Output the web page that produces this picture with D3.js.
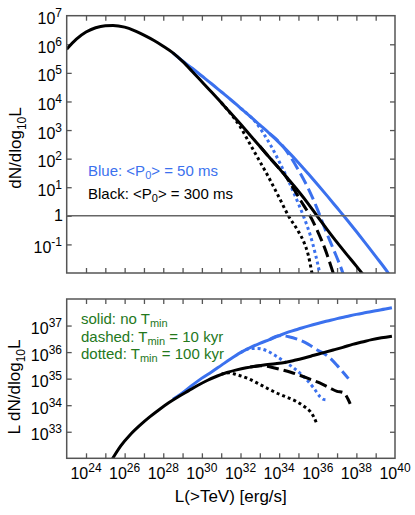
<!DOCTYPE html>
<html>
<head>
<meta charset="utf-8">
<script src="https://cdn.jsdelivr.net/npm/d3@7/dist/d3.min.js"></script>
<style>
  body { margin: 0; background: #fff; }
  text { font-family: Arial, "Liberation Sans", sans-serif; }
</style>
</head>
<body>
<svg id="chart" width="415" height="515"></svg>
<script>
// all values are [log10 L, log10 y]

// top panel: dN/dlog10L
var blackSolidTop = [[23.0,5.83],[23.5,6.18],[24.0,6.43],[24.5,6.58],[25.0,6.65],[25.4,6.66],[26.0,6.60],[26.5,6.48],[27.0,6.32],[27.5,6.14],[28.0,5.93],[28.5,5.70],[29.0,5.40],[29.5,5.05],[30.0,4.69],[30.5,4.33],[31.0,3.96],[31.5,3.59],[32.0,3.21],[32.5,2.82],[33.0,2.43],[33.5,2.04],[34.0,1.66],[34.5,1.26],[35.0,0.86],[35.5,0.43],[36.0,-0.04],[36.5,-0.49],[37.0,-0.93],[37.5,-1.35],[38.0,-1.76],[38.4,-2.1]];
var blackDashedTop = [[33.0,2.43],[33.5,2.04],[34.0,1.66],[34.3,1.42],[34.7,1.0],[35.1,0.55],[35.6,0.0],[36.0,-0.55],[36.4,-1.2],[36.8,-2.0],[36.85,-2.1]];
var blackDottedTop = [[31.0,3.96],[31.2,3.81],[31.6,3.48],[32.0,3.1],[32.4,2.62],[32.9,2.02],[33.4,1.42],[34.0,0.64],[34.5,-0.02],[35.0,-0.55],[35.3,-0.95],[35.5,-1.35],[35.7,-2.0],[35.73,-2.1]];
var blueSolidTop = [[28.5,5.70],[28.9,5.47],[29.5,5.16],[30.0,4.89],[30.5,4.62],[31.0,4.34],[31.5,4.06],[32.0,3.77],[32.5,3.48],[33.0,3.18],[33.5,2.88],[34.0,2.56],[34.5,2.22],[35.0,1.86],[35.5,1.48],[36.0,1.09],[36.5,0.69],[37.0,0.28],[37.5,-0.13],[38.0,-0.55],[38.5,-0.98],[39.0,-1.42],[39.5,-1.86],[39.7,-2.05]];
var blueDashedTop = [[33.5,2.88],[34.2,2.43],[34.6,2.05],[35.0,1.6],[35.5,0.97],[36.0,0.2],[36.4,-0.5],[36.8,-1.15],[37.3,-2.0],[37.35,-2.1]];
var blueDottedTop = [[32.0,3.77],[32.4,3.54],[32.8,3.26],[33.2,2.87],[33.6,2.42],[34.0,1.9],[34.5,1.2],[35.0,0.42],[35.3,-0.08],[35.6,-0.65],[35.9,-1.4],[36.1,-2.0],[36.13,-2.1]];

// bottom panel: L dN/dlog10L
var blackSolidBot = [[25.3,31.9],[25.8,32.47],[26.3,32.9],[26.8,33.25],[27.3,33.56],[27.8,33.84],[28.3,34.1],[28.8,34.33],[29.3,34.54],[29.8,34.75],[30.3,34.94],[30.8,35.1],[31.3,35.23],[31.8,35.33],[32.3,35.41],[32.8,35.47],[33.3,35.52],[33.8,35.56],[34.3,35.61],[34.8,35.69],[35.3,35.78],[35.8,35.88],[36.3,35.98],[36.8,36.08],[37.3,36.18],[37.8,36.29],[38.3,36.38],[38.8,36.47],[39.3,36.54],[39.84,36.6]];
var blackDashedBot = [[32.5,35.44],[33.0,35.49],[33.6,35.43],[34.1,35.34],[34.6,35.24],[35.1,35.12],[35.6,34.98],[36.1,34.84],[36.6,34.66],[37.0,34.52],[37.3,34.48],[37.45,34.38],[37.55,34.25],[37.68,34.05]];
var blackDottedBot = [[31.0,35.16],[31.4,35.22],[31.8,35.15],[32.4,35.0],[32.9,34.82],[33.4,34.63],[33.9,34.45],[34.4,34.3],[34.9,34.14],[35.3,33.95],[35.6,33.77],[35.8,33.55],[35.95,33.3]];
var blueSolidBot = [[28.5,34.22],[28.9,34.41],[29.5,34.75],[30.0,35.02],[30.5,35.25],[31.0,35.5],[31.5,35.75],[32.0,35.98],[32.5,36.17],[33.0,36.33],[33.5,36.47],[34.0,36.62],[34.5,36.76],[35.0,36.87],[35.5,36.98],[36.0,37.08],[36.5,37.17],[37.0,37.26],[37.5,37.34],[38.0,37.42],[38.5,37.49],[39.0,37.56],[39.5,37.62],[39.84,37.67]];
var blueDashedBot = [[33.5,36.47],[34.0,36.62],[34.5,36.58],[35.0,36.47],[35.5,36.3],[36.0,36.07],[36.5,35.86],[37.0,35.5],[37.3,35.25],[37.59,35.0]];
var blueDottedBot = [[32.0,35.98],[32.4,36.12],[32.9,36.14],[33.3,36.07],[33.8,35.87],[34.3,35.63],[34.8,35.38],[35.3,35.05],[35.8,34.64],[36.12,34.32],[36.3,34.22],[36.47,34.2]];

// tick exponents
var xTickExp = d3.range(24, 40);
var xLabelExp = [24, 26, 28, 30, 32, 34, 36, 38, 40];
var topTickExp = [-1, 0, 1, 2, 3, 4, 5, 6];
var topLabelExp = [7, 6, 5, 4, 3, 2, 1, 0, -1];
var botTickExp = [33, 34, 35, 36, 37];

var blue = "#3b71ee", green = "#24781c", frameCol = "#555";

var svg = d3.select("#chart");

var left = 66.7, right = 395;
var x = d3.scaleLog().domain([1e23, 1e40]).range([left, right]);
var yTop = d3.scaleLog().domain([1e-2, 1e7]).range([273, 15.7]);
var yBot = d3.scaleLog().domain([1e32, 1e38]).range([458.3, 299]);

function pts(a) {
  return a.map(function(d) { return [Math.pow(10, d[0]), Math.pow(10, d[1])]; });
}

function panel(id, y, series, tickExp) {
  var y0 = y.range()[0], y1 = y.range()[1];
  svg.append("clipPath").attr("id", id)
    .append("rect").attr("x", left).attr("y", y1)
    .attr("width", right - left).attr("height", y0 - y1);

  var g = svg.append("g");
  var ticks = xTickExp.map(function(e) { return Math.pow(10, e); });
  var yt = tickExp.map(function(e) { return Math.pow(10, e); });

  // inward ticks on all four sides
  g.append("g").attr("transform", "translate(0," + y0 + ")")
    .call(d3.axisBottom(x).tickValues(ticks).tickSize(-5).tickFormat(""));
  g.append("g").attr("transform", "translate(0," + y1 + ")")
    .call(d3.axisTop(x).tickValues(ticks).tickSize(-5).tickFormat(""));
  g.append("g").attr("transform", "translate(" + left + ",0)")
    .call(d3.axisLeft(y).tickValues(yt).tickSize(-5).tickFormat(""));
  g.append("g").attr("transform", "translate(" + right + ",0)")
    .call(d3.axisRight(y).tickValues(yt).tickSize(-5).tickFormat(""));
  g.selectAll(".domain").remove();
  g.selectAll(".tick line").attr("stroke", frameCol).attr("stroke-width", 1.3);

  var line = d3.line()
    .x(function(d) { return x(d[0]); })
    .y(function(d) { return y(d[1]); })
    .curve(d3.curveMonotoneX);

  var lg = svg.append("g").attr("clip-path", "url(#" + id + ")");
  series.forEach(function(s) {
    lg.append("path")
      .attr("d", line(pts(s.data)))
      .attr("fill", "none")
      .attr("stroke", s.color)
      .attr("stroke-width", 3)
      .attr("stroke-dasharray", s.dash || null);
  });

  svg.append("rect")
    .attr("x", left).attr("y", y1)
    .attr("width", right - left).attr("height", y0 - y1)
    .attr("fill", "none").attr("stroke", frameCol).attr("stroke-width", 1.5);
  return lg;
}

var dash = "12,5", dot = "3,3";

// top panel
panel("clipTop", yTop, [
  { data: blueSolidTop, color: blue },
  { data: blueDashedTop, color: blue, dash: dash },
  { data: blueDottedTop, color: blue, dash: dot },
  { data: blackSolidTop, color: "#000" },
  { data: blackDashedTop, color: "#000", dash: dash },
  { data: blackDottedTop, color: "#000", dash: dot }
], topTickExp);

// horizontal line at 1
svg.append("line")
  .attr("x1", left).attr("x2", right)
  .attr("y1", yTop(1)).attr("y2", yTop(1))
  .attr("stroke", "#666").attr("stroke-width", 1.5);

// bottom panel
panel("clipBot", yBot, [
  { data: blueSolidBot, color: blue },
  { data: blueDashedBot, color: blue, dash: dash },
  { data: blueDottedBot, color: blue, dash: dot },
  { data: blackSolidBot, color: "#000" },
  { data: blackDashedBot, color: "#000", dash: dash },
  { data: blackDottedBot, color: "#000", dash: dot }
], botTickExp);

// power-of-ten labels
function powLabel(t, e) {
  if (e === 0) { t.text("1"); return; }
  t.append("tspan").text("10");
  t.append("tspan").attr("dy", -7).attr("font-size", 12).text(e);
}

topLabelExp.forEach(function(e) {
  var t = svg.append("text")
    .attr("x", e === 0 ? 63 : 62).attr("y", yTop(Math.pow(10, e)) + (e === 0 ? 5.5 : 8.5))
    .attr("text-anchor", "end").attr("font-size", 16);
  powLabel(t, e);
});

botTickExp.forEach(function(e) {
  var t = svg.append("text")
    .attr("x", 62).attr("y", yBot(Math.pow(10, e)) + 8.5)
    .attr("text-anchor", "end").attr("font-size", 16);
  powLabel(t, e);
});

xLabelExp.forEach(function(e) {
  var t = svg.append("text")
    .attr("x", x(Math.pow(10, e))).attr("y", 479)
    .attr("text-anchor", "middle").attr("font-size", 16);
  powLabel(t, e);
});

// axis titles
svg.append("text")
  .attr("x", (left + right) / 2).attr("y", 502)
  .attr("text-anchor", "middle").attr("font-size", 17)
  .text("L(>TeV) [erg/s]");

var yt1 = svg.append("text")
  .attr("transform", "translate(21,148) rotate(-90)")
  .attr("text-anchor", "middle").attr("font-size", 17);
yt1.append("tspan").text("dN/dlog");
yt1.append("tspan").attr("dy", 5).attr("font-size", 12).text("10");
yt1.append("tspan").attr("dy", -5).text("L");

var yt2 = svg.append("text")
  .attr("transform", "translate(20,387) rotate(-90)")
  .attr("text-anchor", "middle").attr("font-size", 17);
yt2.append("tspan").text("L dN/dlog");
yt2.append("tspan").attr("dy", 5).attr("font-size", 12).text("10");
yt2.append("tspan").attr("dy", -5).text("L");

// legend texts
function subText(xp, yp, color, before, sub, after) {
  var t = svg.append("text").attr("x", xp).attr("y", yp)
    .attr("font-size", 15).attr("fill", color);
  t.append("tspan").text(before);
  t.append("tspan").attr("dy", 3).attr("font-size", 11).text(sub);
  if (after) t.append("tspan").attr("dy", -3).text(after);
}

subText(88, 176, blue, "Blue: <P", "0", "> = 50 ms");
subText(88, 199, "#000", "Black: <P", "0", "> = 300 ms");

subText(81, 324, green, "solid: no T", "min", null);
subText(81, 341.5, green, "dashed: T", "min", " = 10 kyr");
subText(81, 359, green, "dotted: T", "min", " = 100 kyr");
</script>
</body>
</html>
